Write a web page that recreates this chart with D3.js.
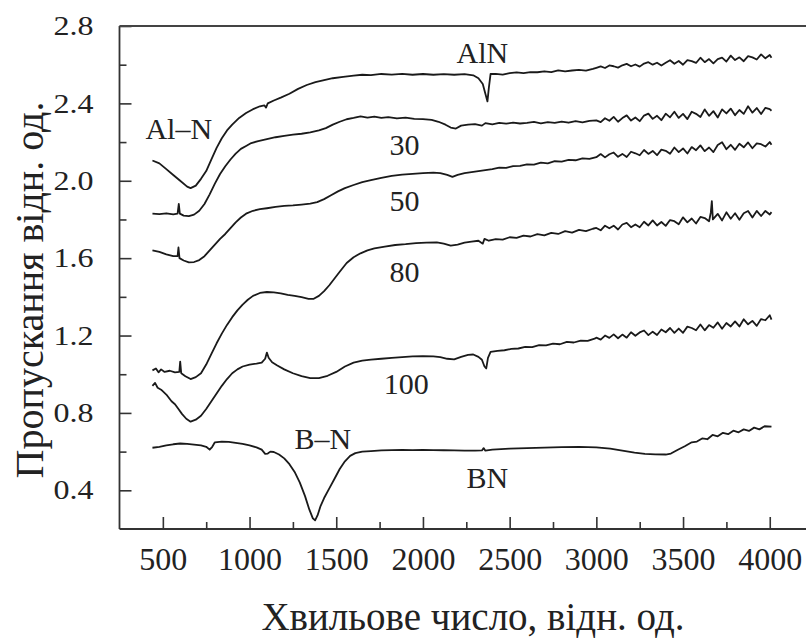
<!DOCTYPE html>
<html><head><meta charset="utf-8">
<script src="https://cdn.jsdelivr.net/npm/d3@7"></script>
<style>
html,body{margin:0;padding:0;background:#fff;}
svg{display:block;}
text{font-family:"Liberation Serif","Times New Roman",serif;fill:#222;}
</style></head>
<body>
<svg id="chart" width="806" height="642"></svg>
<script>
// ---- data ----
const xTickValues = [500, 1000, 1500, 2000, 2500, 3000, 3500, 4000];
const yTickValues = [0.4, 0.8, 1.2, 1.6, 2.0, 2.4, 2.8];
const xTitle = "Хвильове число, відн. од.";
const yTitle = "Пропускання відн. од.";

const seriesAlN = [[440,2.105],[480,2.09],[520,2.06],[560,2.03],[600,2.0],[640,1.97],[660,1.962],[690,1.975],[720,2.01],[750,2.05],[780,2.11],[810,2.17],[840,2.22],[870,2.26],[900,2.29],[940,2.325],[980,2.35],[1020,2.37],[1060,2.385],[1085,2.39],[1095,2.378],[1105,2.4],[1140,2.415],[1180,2.43],[1230,2.45],[1280,2.475],[1330,2.495],[1380,2.51],[1430,2.52],[1480,2.53],[1540,2.537],[1600,2.543],[1650,2.548],[1700,2.546],[1760,2.552],[1820,2.549],[1880,2.553],[1940,2.548],[2000,2.552],[2060,2.548],[2120,2.551],[2180,2.548],[2240,2.551],[2290,2.545],[2320,2.53],[2345,2.5],[2360,2.45],[2372,2.41],[2380,2.48],[2390,2.552],[2420,2.553],[2460,2.549],[2500,2.556],[2540,2.560],[2580,2.556],[2620,2.562],[2660,2.561],[2700,2.566],[2740,2.562],[2780,2.571],[2820,2.565],[2860,2.570],[2900,2.573],[2940,2.569],[2980,2.578],[3000,2.584],[3025,2.591],[3050,2.583],[3075,2.596],[3100,2.592],[3125,2.585],[3150,2.597],[3175,2.604],[3200,2.592],[3225,2.601],[3250,2.590],[3275,2.606],[3300,2.613],[3325,2.600],[3350,2.610],[3375,2.596],[3400,2.610],[3425,2.623],[3450,2.605],[3475,2.619],[3500,2.600],[3525,2.623],[3550,2.618],[3575,2.609],[3600,2.636],[3625,2.613],[3650,2.629],[3675,2.607],[3700,2.629],[3725,2.637],[3750,2.616],[3775,2.647],[3800,2.624],[3825,2.638],[3850,2.618],[3875,2.644],[3900,2.638],[3925,2.627],[3950,2.653],[3975,2.633],[4000,2.650],[4010,2.636]];

const series30 = [[440,1.83],[480,1.828],[520,1.832],[560,1.826],[585,1.83],[592,1.88],[598,1.83],[620,1.82],[650,1.817],[680,1.825],[710,1.845],[740,1.88],[770,1.93],[800,1.985],[830,2.035],[860,2.075],[890,2.11],[920,2.14],[950,2.165],[980,2.18],[1010,2.195],[1050,2.205],[1100,2.215],[1150,2.225],[1200,2.232],[1250,2.238],[1300,2.243],[1350,2.25],[1400,2.26],[1440,2.272],[1480,2.29],[1520,2.305],[1560,2.318],[1600,2.325],[1640,2.333],[1680,2.326],[1720,2.332],[1760,2.325],[1800,2.329],[1850,2.322],[1900,2.326],[1950,2.32],[2000,2.319],[2050,2.315],[2090,2.305],[2130,2.29],[2160,2.275],[2190,2.27],[2220,2.285],[2260,2.29],[2300,2.293],[2340,2.285],[2360,2.298],[2400,2.292],[2440,2.299],[2480,2.295],[2520,2.301],[2560,2.296],[2600,2.299],[2640,2.304],[2680,2.297],[2720,2.303],[2760,2.299],[2800,2.306],[2840,2.300],[2880,2.308],[2920,2.302],[2960,2.310],[3000,2.312],[3025,2.303],[3050,2.323],[3075,2.310],[3100,2.330],[3125,2.305],[3150,2.324],[3175,2.338],[3200,2.311],[3225,2.327],[3250,2.308],[3275,2.337],[3300,2.347],[3325,2.320],[3350,2.336],[3375,2.313],[3400,2.347],[3425,2.328],[3450,2.357],[3475,2.325],[3500,2.346],[3525,2.319],[3550,2.357],[3575,2.346],[3600,2.330],[3625,2.369],[3650,2.336],[3675,2.360],[3700,2.327],[3725,2.369],[3750,2.348],[3775,2.373],[3800,2.339],[3825,2.366],[3850,2.346],[3875,2.385],[3900,2.352],[3925,2.376],[3950,2.345],[3975,2.377],[4000,2.370],[4010,2.362]];

const series50 = [[440,1.64],[480,1.632],[520,1.62],[560,1.61],[585,1.61],[590,1.655],[596,1.60],[620,1.588],[650,1.578],[680,1.58],[710,1.59],[740,1.61],[770,1.64],[800,1.67],[830,1.70],[860,1.725],[890,1.755],[920,1.785],[950,1.81],[980,1.83],[1020,1.845],[1060,1.853],[1100,1.858],[1150,1.865],[1200,1.87],[1250,1.873],[1300,1.877],[1350,1.882],[1390,1.89],[1430,1.905],[1470,1.925],[1510,1.945],[1550,1.962],[1600,1.978],[1650,1.993],[1700,2.003],[1760,2.015],[1820,2.025],[1880,2.032],[1940,2.036],[2000,2.04],[2060,2.042],[2100,2.04],[2140,2.03],[2170,2.02],[2200,2.03],[2240,2.04],[2280,2.045],[2320,2.050],[2360,2.055],[2400,2.060],[2440,2.068],[2480,2.067],[2520,2.076],[2560,2.077],[2600,2.085],[2640,2.083],[2680,2.094],[2720,2.090],[2760,2.101],[2800,2.099],[2840,2.108],[2880,2.106],[2920,2.116],[2960,2.113],[3000,2.122],[3025,2.138],[3050,2.121],[3075,2.137],[3100,2.146],[3125,2.124],[3150,2.139],[3175,2.123],[3200,2.150],[3225,2.142],[3250,2.132],[3275,2.159],[3300,2.139],[3325,2.154],[3350,2.132],[3375,2.161],[3400,2.155],[3425,2.140],[3450,2.172],[3475,2.148],[3500,2.167],[3525,2.141],[3550,2.174],[3575,2.158],[3600,2.183],[3625,2.153],[3650,2.172],[3675,2.148],[3700,2.185],[3725,2.199],[3750,2.163],[3775,2.186],[3800,2.160],[3825,2.191],[3850,2.173],[3875,2.198],[3900,2.168],[3925,2.193],[3950,2.189],[3975,2.177],[4000,2.200],[4010,2.186]];

const series80 = [[440,1.02],[460,1.03],[475,1.01],[490,1.025],[510,1.012],[540,1.018],[570,1.01],[595,1.012],[600,1.065],[606,1.005],[630,0.99],[660,0.975],[690,0.985],[720,1.005],[750,1.05],[780,1.105],[810,1.16],[840,1.21],[870,1.255],[900,1.295],[930,1.33],[960,1.36],[990,1.385],[1020,1.405],[1060,1.42],[1100,1.425],[1140,1.423],[1180,1.418],[1220,1.41],[1260,1.405],[1300,1.398],[1340,1.39],[1370,1.39],[1400,1.405],[1430,1.43],[1460,1.46],[1490,1.495],[1520,1.53],[1560,1.575],[1600,1.605],[1640,1.625],[1680,1.64],[1720,1.65],[1780,1.66],[1840,1.668],[1900,1.672],[1960,1.678],[2020,1.68],[2080,1.682],[2120,1.675],[2160,1.665],[2200,1.67],[2240,1.68],[2280,1.685],[2320,1.69],[2345,1.675],[2355,1.70],[2380,1.690],[2420,1.698],[2460,1.696],[2500,1.708],[2540,1.705],[2580,1.716],[2620,1.712],[2660,1.724],[2700,1.718],[2740,1.731],[2780,1.725],[2820,1.740],[2860,1.732],[2900,1.746],[2940,1.740],[2980,1.752],[3000,1.756],[3025,1.744],[3050,1.768],[3075,1.754],[3100,1.768],[3125,1.748],[3150,1.774],[3175,1.782],[3200,1.760],[3225,1.774],[3250,1.760],[3275,1.788],[3300,1.769],[3325,1.795],[3350,1.769],[3375,1.787],[3400,1.767],[3425,1.797],[3450,1.791],[3475,1.775],[3500,1.811],[3525,1.785],[3550,1.805],[3575,1.779],[3600,1.813],[3625,1.807],[3650,1.791],[3660,1.835],[3666,1.895],[3672,1.800],[3700,1.829],[3725,1.795],[3750,1.837],[3775,1.804],[3800,1.832],[3825,1.798],[3850,1.832],[3875,1.844],[3900,1.810],[3925,1.844],[3950,1.818],[3975,1.844],[4000,1.826],[4010,1.838]];

const series100 = [[440,0.94],[455,0.955],[470,0.93],[490,0.92],[520,0.895],[550,0.86],[570,0.845],[590,0.82],[610,0.795],[635,0.77],[660,0.755],[690,0.765],[720,0.785],[750,0.82],[780,0.86],[810,0.9],[840,0.94],[870,0.975],[900,1.005],[930,1.025],[960,1.04],[1000,1.05],[1040,1.055],[1070,1.06],[1090,1.08],[1100,1.112],[1110,1.085],[1130,1.062],[1160,1.045],[1200,1.025],[1250,1.005],[1300,0.99],[1350,0.98],[1400,0.98],[1450,0.992],[1500,1.012],[1550,1.04],[1600,1.06],[1650,1.07],[1700,1.075],[1760,1.08],[1820,1.085],[1880,1.088],[1940,1.092],[2000,1.093],[2060,1.092],[2100,1.088],[2140,1.08],[2180,1.077],[2220,1.09],[2260,1.1],[2290,1.102],[2320,1.09],[2340,1.075],[2355,1.04],[2365,1.03],[2375,1.085],[2390,1.115],[2430,1.121],[2470,1.124],[2510,1.131],[2550,1.133],[2590,1.141],[2630,1.140],[2670,1.150],[2710,1.149],[2750,1.158],[2790,1.155],[2830,1.167],[2870,1.164],[2910,1.174],[2950,1.172],[2990,1.184],[3000,1.189],[3025,1.179],[3050,1.200],[3075,1.188],[3100,1.206],[3125,1.186],[3150,1.205],[3175,1.189],[3200,1.217],[3225,1.199],[3250,1.216],[3275,1.226],[3300,1.202],[3325,1.220],[3350,1.203],[3375,1.231],[3400,1.217],[3425,1.239],[3450,1.214],[3475,1.236],[3500,1.214],[3525,1.246],[3550,1.239],[3575,1.227],[3600,1.257],[3625,1.227],[3650,1.254],[3675,1.240],[3700,1.268],[3725,1.235],[3750,1.265],[3775,1.247],[3800,1.273],[3825,1.247],[3850,1.284],[3875,1.258],[3900,1.276],[3925,1.250],[3950,1.285],[3975,1.279],[4000,1.305],[4010,1.282]];

const seriesBN = [[440,0.62],[480,0.625],[520,0.632],[560,0.638],[600,0.642],[640,0.64],[680,0.636],[720,0.632],[750,0.625],[770,0.61],[785,0.625],[800,0.648],[840,0.652],[880,0.65],[920,0.645],[960,0.64],[1000,0.632],[1040,0.622],[1070,0.61],[1090,0.588],[1105,0.59],[1120,0.6],[1140,0.598],[1170,0.585],[1200,0.565],[1230,0.535],[1260,0.495],[1290,0.44],[1320,0.37],[1345,0.3],[1365,0.255],[1378,0.245],[1392,0.27],[1410,0.32],[1430,0.36],[1460,0.41],[1490,0.46],[1520,0.51],[1550,0.55],[1580,0.578],[1610,0.592],[1650,0.6],[1700,0.603],[1760,0.606],[1820,0.608],[1880,0.609],[1940,0.608],[2000,0.609],[2060,0.608],[2120,0.607],[2180,0.606],[2240,0.605],[2300,0.605],[2340,0.606],[2350,0.618],[2360,0.605],[2400,0.61],[2500,0.615],[2600,0.618],[2700,0.621],[2800,0.623],[2900,0.625],[3000,0.622],[3080,0.615],[3150,0.605],[3220,0.595],[3280,0.588],[3340,0.586],[3400,0.585],[3430,0.59],[3470,0.61],[3510,0.628],[3550,0.648],[3580,0.652],[3610,0.668],[3640,0.664],[3670,0.686],[3700,0.679],[3730,0.697],[3760,0.690],[3790,0.708],[3820,0.700],[3850,0.715],[3880,0.707],[3910,0.724],[3940,0.715],[3970,0.731],[4010,0.729]];

const seriesList = [seriesAlN, series30, series50, series80, series100, seriesBN];

// labels placed on the plot: text, wavenumber, value (baseline)
const labelTexts = ["AlN", "Al–N", "30", "50", "80", "100", "B–N", "BN"];
const labelX = [2343, 592, 1894, 1894, 1894, 1903, 1422, 2372];
const labelY = [2.607, 2.214, 2.134, 1.845, 1.475, 0.896, 0.611, 0.41];

// ---- drawing ----
const svg = d3.select("#chart");
const margin = {left: 119.5, top: 26, bottom: 529};
const x = d3.scaleLinear().domain([250, 4250]).range([margin.left, margin.left + 4000 * 0.1734]);
const y = d3.scaleLinear().domain([0.2, 2.8]).range([margin.bottom, margin.top]);

const xMinor = d3.range(750, 4001, 500);
const yMinor = d3.range(0.6, 2.7, 0.4);

const axisG = svg.append("g");
const xAxis = d3.axisBottom(x).tickValues(xTickValues).tickSizeInner(-12).tickSizeOuter(0).tickPadding(18).tickFormat(d3.format("d"));
const gx = axisG.append("g").attr("transform", `translate(0,${margin.bottom})`).call(xAxis);
gx.select(".domain").remove();
gx.selectAll("line").attr("stroke", "#333").attr("stroke-width", 1.6);
gx.selectAll("text").attr("font-size", 32).attr("fill", "#222").attr("dy", "0.71em")
  .style("font-family", '"Liberation Serif", serif');
const gxm = axisG.append("g").attr("transform", `translate(0,${margin.bottom})`)
  .call(d3.axisBottom(x).tickValues(xMinor).tickSizeInner(-7).tickSizeOuter(0).tickFormat(""));
gxm.select(".domain").remove();
gxm.selectAll("line").attr("stroke", "#333").attr("stroke-width", 1.6);

const yAxis = d3.axisLeft(y).tickValues(yTickValues).tickSizeInner(-12).tickSizeOuter(0).tickPadding(26).tickFormat(d3.format(".1f"));
const gy = axisG.append("g").attr("transform", `translate(${margin.left},0)`).call(yAxis);
gy.select(".domain").remove();
gy.selectAll("line").attr("stroke", "#333").attr("stroke-width", 1.6);
gy.selectAll("text").attr("font-size", 27).attr("fill", "#222")
  .attr("textLength", 40).attr("lengthAdjust", "spacingAndGlyphs")
  .style("font-family", '"Liberation Serif", serif');
const gym = axisG.append("g").attr("transform", `translate(${margin.left},0)`)
  .call(d3.axisLeft(y).tickValues(yMinor).tickSizeInner(-7).tickSizeOuter(0).tickFormat(""));
gym.select(".domain").remove();
gym.selectAll("line").attr("stroke", "#333").attr("stroke-width", 1.6);

// frame
const frame = svg.append("g").attr("stroke", "#333").attr("fill", "none");
frame.append("line").attr("x1", margin.left).attr("x2", margin.left).attr("y1", margin.top).attr("y2", margin.bottom).attr("stroke-width", 1.8);
frame.append("line").attr("x1", margin.left).attr("x2", 806).attr("y1", margin.bottom).attr("y2", margin.bottom).attr("stroke-width", 1.8);
frame.append("line").attr("x1", margin.left).attr("x2", 806).attr("y1", margin.top).attr("y2", margin.top).attr("stroke-width", 2.2).attr("stroke", "#444");

// curves
const line = d3.line().x(d => x(d[0])).y(d => y(d[1])).curve(d3.curveLinear);
svg.append("g").selectAll("path").data(seriesList).join("path")
  .attr("d", line).attr("fill", "none").attr("stroke", "#1a1a1a")
  .attr("stroke-width", 1.8).attr("stroke-linejoin", "round");

// curve labels
svg.append("g").selectAll("text").data(labelTexts).join("text")
  .attr("x", (d, i) => x(labelX[i])).attr("y", (d, i) => y(labelY[i]))
  .attr("text-anchor", "middle").attr("font-size", 30).attr("fill", "#222")
  .text(d => d);

// axis titles
svg.append("text").attr("x", 473).attr("y", 630).attr("text-anchor", "middle")
  .attr("font-size", 39).attr("fill", "#111").text(xTitle);
svg.append("text").attr("transform", "translate(43,290) rotate(-90)").attr("text-anchor", "middle")
  .attr("font-size", 40).attr("fill", "#111").text(yTitle);
</script>
</body></html>
